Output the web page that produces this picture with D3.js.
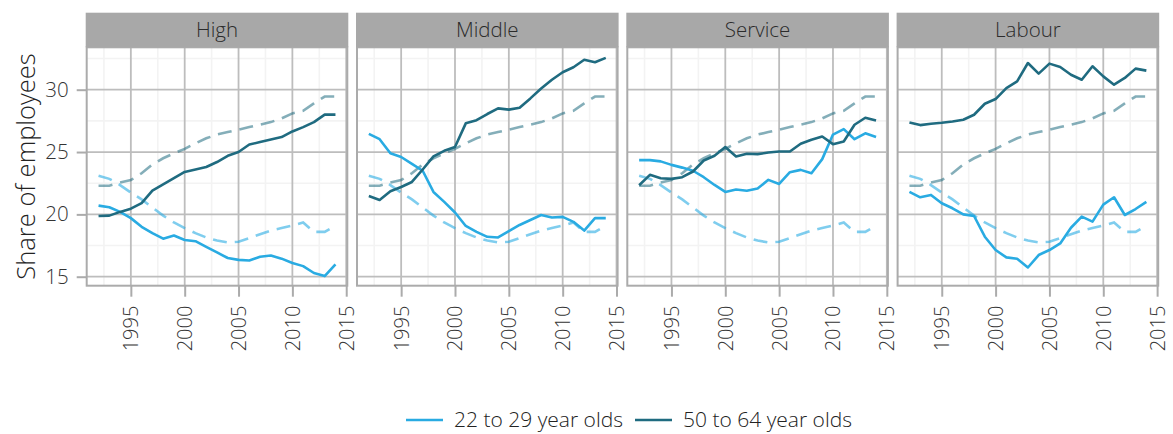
<!DOCTYPE html>
<html>
<head>
<meta charset="utf-8">
<script src="https://cdn.jsdelivr.net/npm/d3@7"></script>
<style>
  body { margin: 0; background: #fff; }
  text { font-family: "Open Sans", sans-serif; font-weight: 300; fill: #333; }
</style>
</head>
<body>
<svg id="chart" width="1173" height="434"></svg>
<script>
// Share of employees by occupation group and age band, 1992-2014
const years = [1992, 1993, 1994, 1995, 1996, 1997, 1998, 1999, 2000, 2001, 2002,
               2003, 2004, 2005, 2006, 2007, 2008, 2009, 2010, 2011, 2012, 2013, 2014];

const categories = ["High", "Middle", "Service", "Labour"];
const ageGroups = ["22 to 29 year olds", "50 to 64 year olds"];

// 22 to 29 year olds, by occupation group
const youngHigh    = [20.7, 20.57, 20.2, 19.7, 19.0, 18.5, 18.05, 18.3, 17.95, 17.85, 17.4, 16.95, 16.5, 16.35, 16.3, 16.6, 16.7, 16.45, 16.1, 15.85, 15.3, 15.05, 16.0];
const youngMiddle  = [26.46, 26.03, 24.9, 24.6, 24.05, 23.5, 21.8, 21.0, 20.15, 19.07, 18.6, 18.2, 18.15, 18.65, 19.15, 19.55, 19.95, 19.75, 19.8, 19.4, 18.7, 19.7, 19.7];
const youngService = [24.35, 24.35, 24.25, 23.97, 23.75, 23.5, 22.98, 22.36, 21.8, 22.0, 21.9, 22.07, 22.77, 22.44, 23.38, 23.57, 23.3, 24.43, 26.4, 26.84, 26.03, 26.5, 26.2];
const youngLabour  = [21.8, 21.37, 21.56, 20.89, 20.49, 20.0, 19.87, 18.21, 17.14, 16.55, 16.44, 15.74, 16.74, 17.14, 17.67, 18.93, 19.82, 19.42, 20.78, 21.37, 19.95, 20.43, 21.0];

// 50 to 64 year olds, by occupation group
const oldHigh    = [19.87, 19.9, 20.2, 20.46, 20.9, 21.9, 22.4, 22.9, 23.4, 23.6, 23.8, 24.2, 24.7, 25.0, 25.6, 25.8, 26.0, 26.2, 26.65, 27.0, 27.4, 28.0, 28.0];
const oldMiddle  = [21.48, 21.15, 21.85, 22.2, 22.6, 23.6, 24.65, 25.1, 25.4, 27.3, 27.55, 28.05, 28.5, 28.4, 28.55, 29.3, 30.1, 30.8, 31.4, 31.8, 32.4, 32.2, 32.55];
const oldService = [22.34, 23.17, 22.9, 22.85, 22.98, 23.44, 24.32, 24.7, 25.4, 24.64, 24.86, 24.83, 24.96, 25.04, 25.04, 25.66, 25.98, 26.25, 25.63, 25.85, 27.19, 27.75, 27.53];
const oldLabour  = [27.37, 27.16, 27.27, 27.35, 27.45, 27.59, 27.99, 28.87, 29.25, 30.13, 30.67, 32.14, 31.29, 32.09, 31.82, 31.2, 30.8, 31.88, 31.07, 30.4, 30.94, 31.69, 31.53];

// All occupations combined (dashed reference lines, same in every panel)
const youngAll = [23.1, 22.85, 22.35, 21.75, 21.2, 20.55, 19.9, 19.35, 18.9, 18.5, 18.15, 17.9, 17.75, 17.8, 18.1, 18.4, 18.7, 18.9, 19.1, 19.35, 18.6, 18.6, 19.1];
const oldAll   = [22.3, 22.3, 22.55, 22.75, 23.3, 24.0, 24.5, 24.9, 25.25, 25.7, 26.1, 26.4, 26.6, 26.8, 27.0, 27.2, 27.4, 27.7, 28.1, 28.3, 28.9, 29.45, 29.45];

const yTicks = [15, 20, 25, 30];
const yMinor = [17.5, 22.5, 27.5, 32.5];
const xTicks = [1995, 2000, 2005, 2010, 2015];
const xMinor = [1992.5, 1997.5, 2002.5, 2007.5, 2012.5];

const youngSeries = [youngHigh, youngMiddle, youngService, youngLabour];
const oldSeries   = [oldHigh, oldMiddle, oldService, oldLabour];

const colorYoung = "#29abe2";
const colorOld   = "#1f6b80";

// Layout
const svg = d3.select("#chart");
const left = 86.7, panelW = 260.6, gap = 9.7;
const stripTop = 12.7, stripH = 34.6;
const panelTop = stripTop + stripH, panelH = 238.4;

const x = d3.scaleLinear().domain([1990.9, 2015.1]).range([0, panelW]);
const y = d3.scaleLinear().domain([14.28, 33.4]).range([panelH, 0]);

const line = d3.line().x((d, i) => x(years[i])).y(d => y(d));

categories.forEach((cat, ci) => {
  const g = svg.append("g")
    .attr("transform", `translate(${left + ci * (panelW + gap)},${panelTop})`);

  // minor grid
  g.selectAll(".minor-h").data(yMinor).join("line")
    .attr("x1", 0).attr("x2", panelW)
    .attr("y1", d => y(d)).attr("y2", d => y(d))
    .attr("stroke", "#f3f3f3").attr("stroke-width", 1.6);
  g.selectAll(".minor-v").data(xMinor).join("line")
    .attr("y1", 0).attr("y2", panelH)
    .attr("x1", d => x(d)).attr("x2", d => x(d))
    .attr("stroke", "#f3f3f3").attr("stroke-width", 1.6);

  // major grid
  g.selectAll(".major-h").data(yTicks).join("line")
    .attr("x1", 0).attr("x2", panelW)
    .attr("y1", d => y(d)).attr("y2", d => y(d))
    .attr("stroke", "#bdbdbd").attr("stroke-width", 1.8);
  g.selectAll(".major-v").data(xTicks).join("line")
    .attr("y1", 0).attr("y2", panelH)
    .attr("x1", d => x(d)).attr("x2", d => x(d))
    .attr("stroke", "#bdbdbd").attr("stroke-width", 1.8);

  // all-occupation reference lines
  g.append("path").datum(oldAll)
    .attr("d", line).attr("fill", "none")
    .attr("stroke", colorOld).attr("stroke-opacity", 0.55)
    .attr("stroke-width", 2.6).attr("stroke-dasharray", "14,8");
  g.append("path").datum(youngAll)
    .attr("d", line).attr("fill", "none")
    .attr("stroke", colorYoung).attr("stroke-opacity", 0.6)
    .attr("stroke-width", 2.6).attr("stroke-dasharray", "14,8");

  // occupation group lines
  g.append("path").datum(youngSeries[ci])
    .attr("d", line).attr("fill", "none")
    .attr("stroke", colorYoung).attr("stroke-width", 2.6)
    .attr("stroke-linejoin", "round");
  g.append("path").datum(oldSeries[ci])
    .attr("d", line).attr("fill", "none")
    .attr("stroke", colorOld).attr("stroke-width", 2.6)
    .attr("stroke-linejoin", "round");

  // panel border
  g.append("rect")
    .attr("x", 0).attr("y", 0).attr("width", panelW).attr("height", panelH)
    .attr("fill", "none").attr("stroke", "#ababab").attr("stroke-width", 2);

  // strip
  g.append("rect")
    .attr("x", -1).attr("y", -stripH).attr("width", panelW + 2).attr("height", stripH)
    .attr("fill", "#a8a8a8");
  g.append("text")
    .attr("x", panelW / 2).attr("y", -stripH / 2)
    .attr("text-anchor", "middle").attr("dy", "0.35em")
    .style("font-size", "20.5px").style("fill", "#2b2b2b")
    .text(cat);

  // x axis
  const xAxis = g.append("g")
    .attr("transform", `translate(0,${panelH})`)
    .call(d3.axisBottom(x).tickValues(xTicks).tickFormat(d3.format("d")).tickSize(11).tickSizeOuter(0));
  xAxis.select(".domain").remove();
  xAxis.selectAll(".tick line").attr("stroke", "#ababab").attr("stroke-width", 2);
  xAxis.selectAll(".tick text")
    .attr("transform", "rotate(-90)")
    .attr("text-anchor", "end")
    .attr("x", -20).attr("y", 0).attr("dy", "0.35em")
    .style("font-size", "20px").style("fill", "#333");

  // y axis on first panel only
  if (ci === 0) {
    const yAxis = g.append("g")
      .call(d3.axisLeft(y).tickValues(yTicks).tickSize(10).tickPadding(8).tickSizeOuter(0));
    yAxis.select(".domain").remove();
    yAxis.selectAll(".tick line").attr("stroke", "#ababab").attr("stroke-width", 2);
    yAxis.selectAll(".tick text")
      .style("font-size", "20.5px").style("fill", "#333");
  }
});

// y axis title
svg.append("text")
  .attr("transform", `translate(26,${panelTop + panelH / 2}) rotate(-90)`)
  .attr("text-anchor", "middle").attr("dy", "0.35em")
  .style("font-size", "25.5px").style("fill", "#222")
  .text("Share of employees");

// legend
const legend = svg.append("g").attr("transform", "translate(0,420)");
const legendItems = [
  { label: ageGroups[0], color: colorYoung, x: 406 },
  { label: ageGroups[1], color: colorOld, x: 635 }
];
legendItems.forEach(item => {
  legend.append("line")
    .attr("x1", item.x).attr("x2", item.x + 37)
    .attr("y1", 0).attr("y2", 0)
    .attr("stroke", item.color).attr("stroke-width", 2.6);
  legend.append("text")
    .attr("x", item.x + 48).attr("y", 0).attr("dy", "0.35em")
    .style("font-size", "21px").style("fill", "#222")
    .text(item.label);
});
</script>
</body>
</html>
